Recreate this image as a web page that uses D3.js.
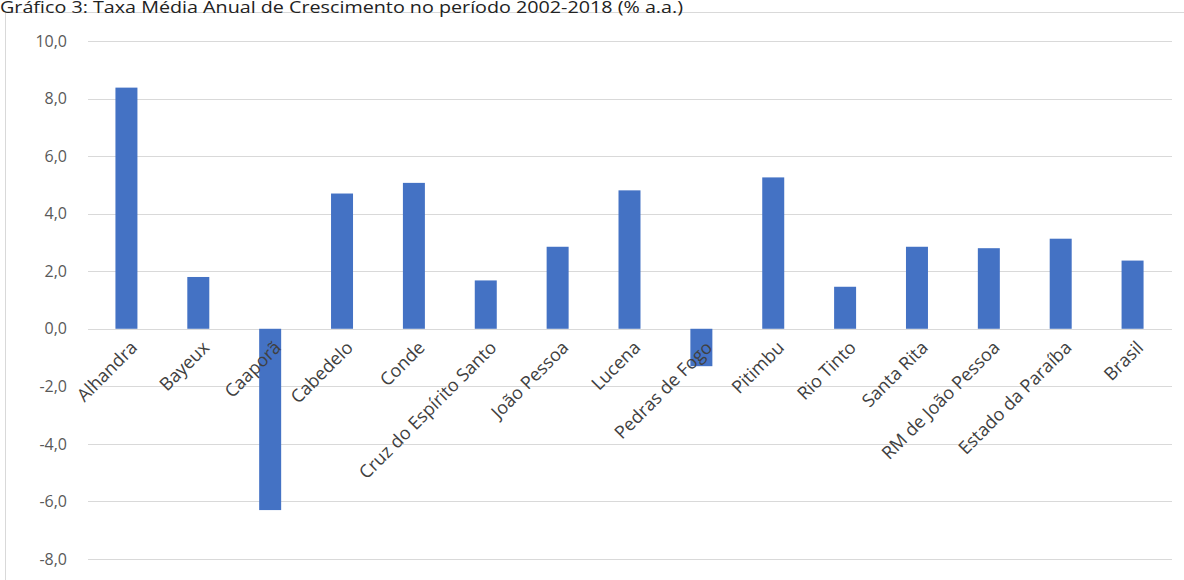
<!DOCTYPE html>
<html><head><meta charset="utf-8">
<script src="https://cdn.jsdelivr.net/npm/d3@7"></script>
<style>body{margin:0;background:#fff;} svg{display:block;}</style>
</head><body>
<svg id="c" width="1184" height="580"></svg>
<script>
const titleText = "Gráfico 3: Taxa Média Anual de Crescimento no período 2002-2018 (% a.a.)";
const categories = ["Alhandra","Bayeux","Caaporã","Cabedelo","Conde","Cruz do Espírito Santo","João Pessoa","Lucena","Pedras de Fogo","Pitimbu","Rio Tinto","Santa Rita","RM de João Pessoa","Estado da Paraíba","Brasil"];
const values = [8.38, 1.8, -6.3, 4.7, 5.07, 1.68, 2.85, 4.81, -1.3, 5.26, 1.46, 2.85, 2.8, 3.13, 2.37];
const yTicks = [-8,-6,-4,-2,0,2,4,6,8,10];

const svg = d3.select("#c");
const fmt = v => d3.format(".1f")(v).replace(".", ",").replace("−","-");

// frame
svg.append("rect").attr("x",5.5).attr("y",12.5).attr("width",1200).attr("height",600)
  .attr("fill","none").attr("stroke","#d9d9d9");

// title
svg.append("text").attr("x",0).attr("y",13)
  .attr("font-family","Open Sans").attr("font-size",17).attr("fill","#222")
  .attr("textLength",683).attr("lengthAdjust","spacingAndGlyphs")
  .text(titleText);

const y = d3.scaleLinear().domain([-8,10]).range([559,41]);
const x = d3.scaleBand().domain(categories).range([90.5,1168.5]).paddingInner(0.694).paddingOuter(0.347);

// gridlines
svg.append("g").selectAll("line").data(yTicks).join("line")
  .attr("x1",88).attr("x2",1172)
  .attr("y1",d=>Math.round(y(d))+0.5).attr("y2",d=>Math.round(y(d))+0.5)
  .attr("stroke","#d9d9d9").attr("stroke-width",1);

// y axis labels
const yAxis = d3.axisLeft(y).tickValues(yTicks).tickFormat(fmt).tickSize(0).tickPadding(0);
const gy = svg.append("g").attr("transform","translate(67,0)").call(yAxis);
gy.select(".domain").remove();
gy.selectAll("text").attr("font-family","Open Sans").attr("font-size",16).attr("fill","#595959");

// bars
svg.append("g").selectAll("rect").data(categories).join("rect")
  .attr("x",d=>x(d)).attr("width",x.bandwidth())
  .attr("y",(d,i)=>y(Math.max(0,values[i])))
  .attr("height",(d,i)=>Math.abs(y(values[i])-y(0)))
  .attr("fill","#4472C4");

// x labels at zero line
const xAxis = d3.axisBottom(x).tickSize(0).tickPadding(0);
const gx = svg.append("g").attr("transform",`translate(0,${y(0)})`).call(xAxis);
gx.select(".domain").remove();
gx.selectAll("text")
  .attr("font-family","Open Sans").attr("font-size",18).attr("fill","#404040")
  .attr("text-anchor","end").attr("dy",0).attr("y",0)
  .attr("transform","translate(12,20) rotate(-45)");
</script>
</body></html>
